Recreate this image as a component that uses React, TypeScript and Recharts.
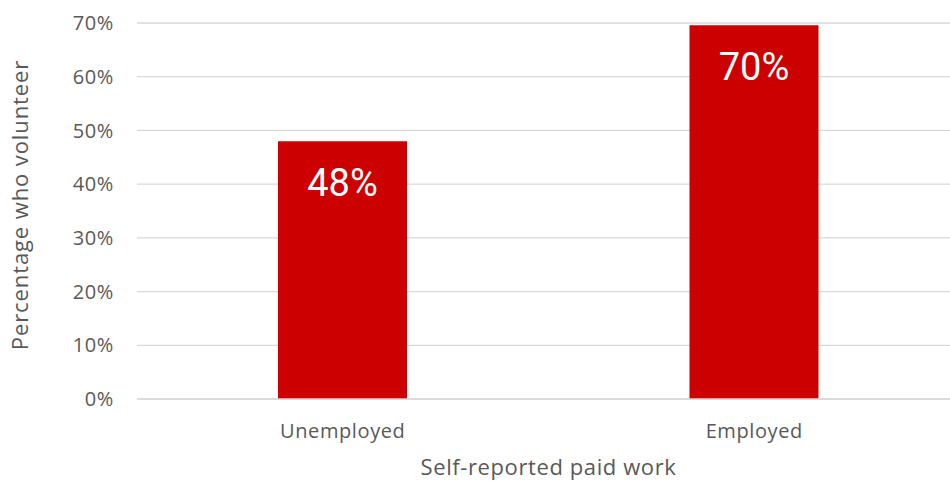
import { Bar, BarChart, CartesianGrid, LabelList, XAxis, YAxis } from "recharts";

const categories = ["Unemployed", "Employed"];
const shares = [48, 69.6];
const shareLabels = ["48%", "70%"];
const yTicks = [0, 10, 20, 30, 40, 50, 60, 70];

const data = categories.map((name, i) => ({ name, share: shares[i], label: shareLabels[i] }));

const TEXT = "#595959";
const FONT = "'Open Sans', 'DejaVu Sans', sans-serif";

function BarValue(props: any) {
  const { x, y, width, value } = props;
  return (
    <text
      x={x + width / 2}
      y={y + 55}
      fill="#ffffff"
      fontSize={38}
      fontFamily="Roboto, 'Noto Sans', sans-serif"
      textAnchor="middle"
    >
      {value}
    </text>
  );
}

export default function App() {
  return (
    <div style={{ position: "absolute", left: 0, top: 0, width: 950, height: 481, overflow: "hidden", background: "#fff" }}>
      <BarChart width={962} height={481} data={data} margin={{ top: 23, right: 2, bottom: 0, left: 0 }}>
        <CartesianGrid vertical={false} stroke="#d9d9d9" strokeWidth={1.3} />
        <XAxis
          dataKey="name"
          height={82}
          axisLine={{ stroke: "#d9d9d9", strokeWidth: 1.3 }}
          tickLine={false}
          tickSize={0}
          tickMargin={25}
          tick={{ fill: TEXT, fontSize: 20, fontFamily: FONT, letterSpacing: 0.6 }}
          label={{
            content: () => (
              <text
                x={548.5}
                y={475}
                textAnchor="middle"
                fill={TEXT}
                fontSize={22}
                letterSpacing={0.6}
                fontFamily={FONT}
              >
                Self-reported paid work
              </text>
            ),
          }}
        />
        <YAxis
          width={137}
          domain={[0, 70]}
          ticks={yTicks}
          axisLine={false}
          tickLine={false}
          tickSize={0}
          tickMargin={23}
          tickFormatter={(v: number) => `${v}%`}
          tick={{ fill: TEXT, fontSize: 20, fontFamily: FONT, letterSpacing: 0.6 }}
          label={{
            content: () => (
              <text
                x={28}
                y={205}
                transform="rotate(-90, 28, 205)"
                textAnchor="middle"
                fill={TEXT}
                fontSize={22}
                letterSpacing={0.9}
                fontFamily={FONT}
              >
                Percentage who volunteer
              </text>
            ),
          }}
        />
        <Bar dataKey="share" fill="#cc0000" barSize={129} isAnimationActive={false}>
          <LabelList dataKey="label" content={BarValue} />
        </Bar>
      </BarChart>
    </div>
  );
}
